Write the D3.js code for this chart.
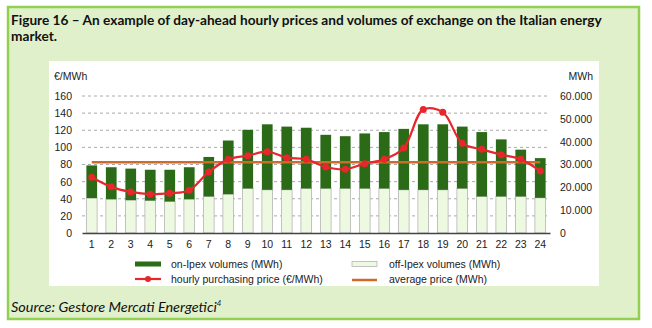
<!DOCTYPE html>
<html><head><meta charset="utf-8">
<script src="https://cdn.jsdelivr.net/npm/d3@7"></script>
<style>body{margin:0;background:#fff}svg{display:block}</style>
</head><body>
<script>
const hours = d3.range(1,25).map(String);
const offIpex = [15300,14800,14400,14200,13800,14800,16000,17000,19500,18900,18900,19500,19500,19500,19500,19500,18900,18900,18900,19500,16000,16000,16000,15400];
const onIpex = [14300,14000,13800,13500,13900,14000,17300,23500,25700,28700,27700,26600,23500,22900,24100,24700,26700,28700,28700,27100,28200,25000,20500,17400];
const price = [65.1,53.9,48,45.3,46.5,50,71.3,86,90.3,95,88,86,77.1,74.4,81,86,99.2,144.2,141.1,104.7,97.7,91.5,86,72.5];
const avgPrice = [82.5];
const leftTicks = [0,20,40,60,80,100,120,140,160];
const rightTicks = [0,10000,20000,30000,40000,50000,60000];
const rightTickLabels = ["0","10.000","20.000","30.000","40.000","50.000","60.000"];
const titleLines = ["Figure 16 – An example of day-ahead hourly prices and volumes of exchange on the Italian energy","market."];
const source = "Source: Gestore Mercati Energetici";

const W=652,H=328;
const svg=d3.select("body").append("svg").attr("width",W).attr("height",H);
// outer box
svg.append("rect").attr("x",8).attr("y",7).attr("width",631).attr("height",312)
  .attr("fill","#dff0cb").attr("stroke","#92d050").attr("stroke-width",2.5);
const tg=svg.append("g");
const tt=tg.selectAll("text.title").data(titleLines).join("text")
  .attr("x",0).attr("y",(d,i)=>25+i*16)
  .attr("font-family","Lato, 'Open Sans', sans-serif").attr("font-weight","bold").attr("font-size",14)
  .attr("fill","#111").text(d=>d);
const tw=tt.node().getComputedTextLength();
tg.attr("transform",`translate(11,0) scale(${591/tw},1)`);
// white panel
svg.append("rect").attr("x",49).attr("y",61).attr("width",550).attr("height",225).attr("fill","#fff");

const x=d3.scaleBand().domain(hours).range([82,550]).paddingInner(0.45).paddingOuter(0.225);
const yL=d3.scaleLinear().domain([0,160]).range([233,96]);
const yR=d3.scaleLinear().domain([0,60000]).range([233,96]);
const font="'Liberation Sans', Arial, sans-serif";

// gridlines
svg.append("g").selectAll("line").data(leftTicks.filter(d=>d>0)).join("line")
  .attr("x1",82).attr("x2",550).attr("y1",d=>yL(d)).attr("y2",d=>yL(d))
  .attr("stroke","#aaa").attr("stroke-width",1).attr("stroke-dasharray","3,3");

// left axis
const gl=svg.append("g").attr("transform","translate(82,0)")
  .call(d3.axisLeft(yL).tickValues(leftTicks).tickSize(0).tickPadding(10));
gl.select(".domain").remove();
gl.selectAll("text").attr("font-family",font).attr("font-size",10.5).attr("fill","#222");
// right axis
const gr=svg.append("g").attr("transform","translate(560,0)")
  .call(d3.axisRight(yR).tickValues(rightTicks).tickSize(0).tickPadding(0).tickFormat((d,i)=>rightTickLabels[i]));
gr.select(".domain").remove();
gr.selectAll("text").attr("font-family",font).attr("font-size",10.5).attr("fill","#222");

svg.append("text").attr("x",54).attr("y",80).attr("font-family",font).attr("font-size",10.5).attr("fill","#222").text("€/MWh");
svg.append("text").attr("x",593).attr("y",80).attr("text-anchor","end").attr("font-family",font).attr("font-size",10.5).attr("fill","#222").text("MWh");

// bars
const gb=svg.append("g");
gb.selectAll("rect.off").data(hours).join("rect").attr("class","off")
  .attr("x",d=>x(d)).attr("width",x.bandwidth())
  .attr("y",(d,i)=>yR(offIpex[i])).attr("height",(d,i)=>yR(0)-yR(offIpex[i]))
  .attr("fill","#eef9e2").attr("stroke","#b5b5b5").attr("stroke-width",0.8);
gb.selectAll("rect.on").data(hours).join("rect").attr("class","on")
  .attr("x",d=>x(d)).attr("width",x.bandwidth())
  .attr("y",(d,i)=>yR(offIpex[i]+onIpex[i])).attr("height",(d,i)=>yR(offIpex[i])-yR(offIpex[i]+onIpex[i]))
  .attr("fill","#2b6b17");

// x axis
const gx=svg.append("g").attr("transform","translate(0,233)")
  .call(d3.axisBottom(x).tickSize(0).tickPadding(8));
gx.select(".domain").attr("stroke","#444").attr("stroke-width",1.5);
gx.selectAll("text").attr("font-family",font).attr("font-size",10.5).attr("fill","#222");

const cx=d=>x(d)+x.bandwidth()/2;
// average line
svg.append("line").attr("x1",cx(hours[0])).attr("x2",cx(hours[23]))
  .attr("y1",yL(avgPrice[0])).attr("y2",yL(avgPrice[0]))
  .attr("stroke","#cf6a2a").attr("stroke-width",2.5);
// price line
const line=d3.line().x((d,i)=>cx(hours[i])).y(d=>yL(d)).curve(d3.curveCatmullRom.alpha(0.5));
svg.append("path").datum(price).attr("d",line).attr("fill","none").attr("stroke","#e8262b").attr("stroke-width",2.2);
svg.append("g").selectAll("circle").data(price).join("circle")
  .attr("cx",(d,i)=>cx(hours[i])).attr("cy",d=>yL(d)).attr("r",3.5).attr("fill","#e8262b");

// legend
const lg=svg.append("g").attr("font-family",font).attr("font-size",10.5).attr("fill","#222");
lg.append("rect").attr("x",135).attr("y",261.5).attr("width",26).attr("height",5).attr("fill","#2b6b17");
lg.append("text").attr("x",171).attr("y",268).text("on-Ipex volumes (MWh)");
lg.append("rect").attr("x",352).attr("y",261.5).attr("width",25).attr("height",5).attr("fill","#eef9e2").attr("stroke","#b5b5b5").attr("stroke-width",0.8);
lg.append("text").attr("x",389).attr("y",268).text("off-Ipex volumes (MWh)");
lg.append("line").attr("x1",135).attr("x2",161).attr("y1",279).attr("y2",279).attr("stroke","#e8262b").attr("stroke-width",2.2);
lg.append("circle").attr("cx",148).attr("cy",279).attr("r",3).attr("fill","#e8262b");
lg.append("text").attr("x",171).attr("y",283).text("hourly purchasing price (€/MWh)");
lg.append("line").attr("x1",352).attr("x2",377).attr("y1",280).attr("y2",280).attr("stroke","#cf6a2a").attr("stroke-width",2.5);
lg.append("text").attr("x",389).attr("y",283).text("average price (MWh)");

// source
const sg=svg.append("g");
const st=sg.append("text").attr("x",0).attr("y",312).attr("font-family","Lato, 'Open Sans', sans-serif")
  .attr("font-style","italic").attr("font-size",13).attr("fill","#111").text(source);
const sw=st.node().getComputedTextLength();
st.append("tspan").attr("dy",-6).attr("font-size",7).text("4");
sg.attr("transform",`translate(11,0) scale(${206/sw},1)`);
</script>
</body></html>
